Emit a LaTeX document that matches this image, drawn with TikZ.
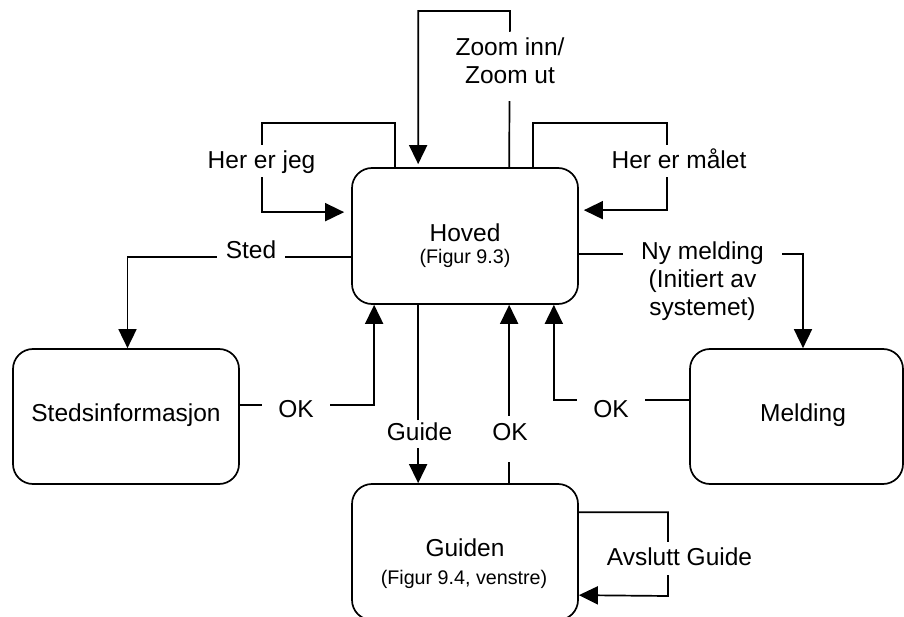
\documentclass[tikz,border=0pt]{standalone}
\usepackage{fontspec}
\setmainfont{Liberation Sans}
\usetikzlibrary{arrows.meta}
\newcommand\mainsize{\fontsize{24.5pt}{28pt}\selectfont}
\newcommand\refsize{\fontsize{19.7pt}{23pt}\selectfont}
\begin{document}
\begin{tikzpicture}[x=1pt,y=-1pt,
  state/.style={draw, line width=1.7pt, rounded corners=20pt, inner sep=0pt,
                minimum width=226pt, minimum height=136pt},
  flow/.style={line width=1.7pt, -{Triangle[length=19pt,width=18pt]}},
  cut/.style={fill=white, inner sep=0pt, font=\mainsize, anchor=base},
  txt/.style={inner sep=0pt, font=\mainsize, anchor=base},
  reftxt/.style={inner sep=0pt, font=\refsize, anchor=base}]

\useasboundingbox (0,0) rectangle (904,617);
\clip (0,0) rectangle (904,617);

% states
\node[state] (hoved) at (465,236) {};
\node[state, minimum height=135pt] (sted) at (126,416.5) {};
\node[state, minimum width=213pt, minimum height=135pt] (meld) at (796.5,416.5) {};
\node[state] (guiden) at (465,552) {};

% state names
\node[txt] (hovedname) at (465,241.7) {Hoved};
\node[reftxt] (hovedref) at (465,263.5) {(Figur 9.3)};
\node[txt] (stedname) at (126,421.7) {Stedsinformasjon};
\node[txt] (meldname) at (803,421.7) {Melding};
\node[txt] (guidenname) at (465,556.7) {Guiden};
\node[reftxt] (guidenref) at (464,584) {(Figur 9.4, venstre)};

% transitions
\draw[flow, shorten >=3pt] ([xshift=158pt]hoved.north west) -- (510,11) -| ([xshift=67pt]hoved.north west);
\draw[flow, shorten >=7pt] ([xshift=44pt]hoved.north west) |- (262,123) |- ([yshift=-45pt]hoved.north west);
\draw[flow, shorten >=5pt] ([xshift=-46pt]hoved.north east) |- (667,123) |- ([yshift=-43pt]hoved.north east);
\draw[flow] ([yshift=-90pt]hoved.north west) -| ([xshift=1.5pt]sted.north);
\draw[flow] ([yshift=11.5pt]sted.east) -| ([xshift=23pt]hoved.south west);
\draw[flow] ([xshift=67pt]hoved.south west) -- ([xshift=67pt]guiden.north west);
\draw[flow] ([xshift=158pt]guiden.north west) -- ([xshift=158pt]hoved.south west);
\draw[flow] ([yshift=16.5pt]meld.west) -| ([xshift=-25pt]hoved.south east);
\draw[flow] ([yshift=-87pt]hoved.north east) -| ([xshift=6.5pt]meld.north);
\draw[flow] ([yshift=-29pt]guiden.north east) -| (668,596) -- ([yshift=-112pt]guiden.north east);

% transition labels (white backing opens the line behind them)
\node[cut, text height=52pt, text depth=17pt] (zoomlbl) at (510,84)
  {\begin{tabular}[b]{@{}c@{}}Zoom inn/\\Zoom ut\end{tabular}};
\node[cut, text height=24pt, text depth=8pt] (herjeg) at (261.5,169) {Her er jeg};
\node[cut, text height=24pt, text depth=8pt] (hermaal) at (679,169) {Her er målet};
\node[cut, minimum width=68pt, text height=18pt, text depth=6pt] (stedlbl) at (251,259) {Sted};
\node[cut, minimum width=68pt, text height=18pt, text depth=6pt] (okst) at (296,417) {OK};
\node[cut, text height=20pt, text depth=8pt] (guidelbl) at (419.5,440) {Guide};
\node[cut, text height=24.3pt, text depth=22.3pt] (okgd) at (510,440) {OK};
\node[cut, minimum width=68pt, text height=18pt, text depth=6pt] (okml) at (611,417) {OK};
\node[cut, minimum width=159pt, text height=20pt] (nymld) at (702.5,260)
  {\begin{tabular}[t]{@{}c@{}}Ny melding\\(Initiert av\\systemet)\end{tabular}};
\node[cut, text height=24pt, text depth=9.3pt] (avsl) at (679.5,565.7) {Avslutt Guide};
\end{tikzpicture}
\end{document}
